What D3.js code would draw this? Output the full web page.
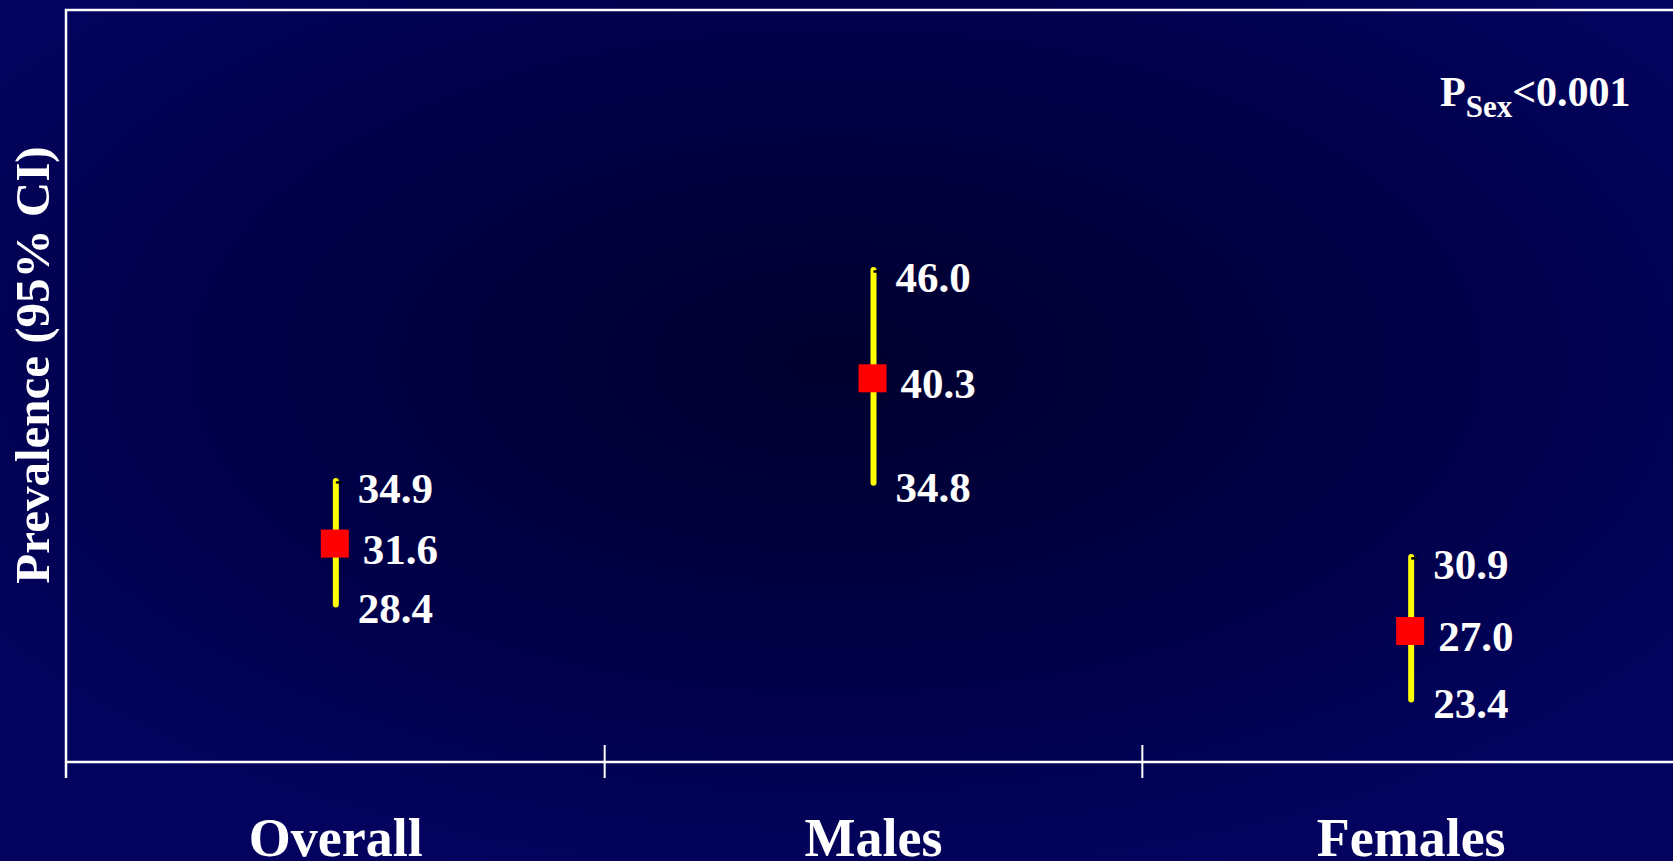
<!DOCTYPE html>
<html>
<head>
<meta charset="utf-8">
<script src="https://cdn.jsdelivr.net/npm/d3@7"></script>
<style>
  html, body { margin: 0; padding: 0; background: #02025e; overflow: hidden; }
  svg { display: block; }
  text { font-family: "Liberation Serif", "Times New Roman", serif; font-weight: bold; fill: #ffffff; }
</style>
</head>
<body>
<svg id="chart" width="1673" height="861"></svg>
<script>
// Prevalence estimates with 95% confidence intervals
const categories = ["Overall", "Males", "Females"];
const estimates = [31.6, 40.3, 27.0];
const lowerCI = [28.4, 34.8, 23.4];
const upperCI = [34.9, 46.0, 30.9];
const yDomain = [20, 60];
const yTitle = "Prevalence (95% CI)";
const pLabel = { main: "P", sub: "Sex", tail: "<0.001" };

const W = 1673, H = 861;
const frame = { left: 66, top: 10, bottom: 762, right: 1680 };

const svg = d3.select("#chart");

// background: dark centre fading to navy at the edges
const defs = svg.append("defs");
const grad = defs.append("radialGradient")
  .attr("id", "bg").attr("cx", 0.5).attr("cy", 0.42).attr("r", 0.62);
grad.append("stop").attr("offset", 0).attr("stop-color", "#00002e");
grad.append("stop").attr("offset", 0.55).attr("stop-color", "#000047");
grad.append("stop").attr("offset", 1).attr("stop-color", "#03035f");
svg.append("rect").attr("width", W).attr("height", H).attr("fill", "url(#bg)");

const x = d3.scaleBand().domain(categories).range([67, 1680]).padding(0);
const y = d3.scaleLinear().domain(yDomain).range([764, 4]);

// plot frame: left and top borders
svg.append("path")
  .attr("d", `M${frame.left},${frame.bottom + 16} V${frame.top} H${frame.right}`)
  .attr("fill", "none").attr("stroke", "#ffffff").attr("stroke-width", 2.5);

// x axis with crossing tick marks between categories
const xAxis = svg.append("g").attr("transform", `translate(0,${frame.bottom})`);
xAxis.append("line")
  .attr("x1", frame.left).attr("x2", frame.right)
  .attr("stroke", "#ffffff").attr("stroke-width", 2.5);
xAxis.selectAll("line.tick")
  .data(categories.slice(1))
  .join("line")
  .attr("class", "tick")
  .attr("x1", d => x(d)).attr("x2", d => x(d))
  .attr("y1", -17).attr("y2", 16)
  .attr("stroke", "#ffffff").attr("stroke-width", 2);
xAxis.selectAll("text")
  .data(categories)
  .join("text")
  .attr("x", d => x(d) + x.bandwidth() / 2)
  .attr("y", 94)
  .attr("text-anchor", "middle")
  .attr("font-size", 54)
  .text(d => d);

// y axis title
svg.append("text")
  .attr("transform", "translate(49,365) rotate(-90)")
  .attr("text-anchor", "middle")
  .attr("font-size", 49)
  .text(yTitle);

// significance note
const note = svg.append("text")
  .attr("x", 1440).attr("y", 106)
  .attr("font-size", 42);
note.append("tspan").text(pLabel.main);
note.append("tspan").attr("font-size", 31).attr("dy", 11).text(pLabel.sub);
note.append("tspan").attr("dy", -11).text(pLabel.tail);

const rows = categories.map((c, i) => ({
  cat: c, est: estimates[i], lo: lowerCI[i], hi: upperCI[i]
}));
const cx = d => x(d.cat) + x.bandwidth() / 2;
const fmt = d3.format(".1f");

const g = svg.append("g");

// confidence interval bars
g.selectAll("line.ci")
  .data(rows)
  .join("line")
  .attr("class", "ci")
  .attr("x1", cx).attr("x2", cx)
  .attr("y1", d => y(d.hi)).attr("y2", d => y(d.lo))
  .attr("stroke", "#ffff00").attr("stroke-width", 6)
  .attr("stroke-linecap", "round");

// small dark cap at the upper end
g.selectAll("line.cap")
  .data(rows)
  .join("line")
  .attr("class", "cap")
  .attr("x1", d => cx(d)).attr("x2", d => cx(d) + 6)
  .attr("y1", d => y(d.hi) + 1.5).attr("y2", d => y(d.hi) + 1.5)
  .attr("stroke", "#000000").attr("stroke-width", 2.5);

// point estimates
const sq = 28;
g.selectAll("rect.est")
  .data(rows)
  .join("rect")
  .attr("class", "est")
  .attr("x", d => cx(d) - sq / 2 - 1)
  .attr("y", d => y(d.est) - sq / 2)
  .attr("width", sq).attr("height", sq)
  .attr("fill", "#ff0000");

// value labels
const labelSpec = [
  { key: "hi", dx: 22, dy: 22 },
  { key: "est", dx: 27, dy: 20 },
  { key: "lo", dx: 22, dy: 19 }
];
labelSpec.forEach(s => {
  g.selectAll(`text.lab-${s.key}`)
    .data(rows)
    .join("text")
    .attr("class", `lab-${s.key}`)
    .attr("x", d => cx(d) + s.dx)
    .attr("y", d => y(d[s.key]) + s.dy)
    .attr("font-size", 43)
    .text(d => fmt(d[s.key]));
});
</script>
</body>
</html>
